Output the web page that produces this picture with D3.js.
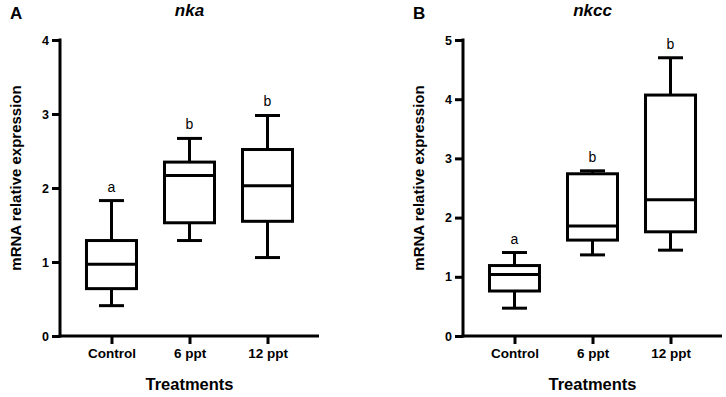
<!DOCTYPE html>
<html>
<head>
<meta charset="utf-8">
<script src="https://cdn.jsdelivr.net/npm/d3@7"></script>
<style>
  body { margin: 0; background: #fff; }
  svg { display: block; font-family: "Liberation Sans", Arial, sans-serif; }
</style>
</head>
<body>
<div id="chart"></div>
<script>
// data
const categories = ["Control", "6 ppt", "12 ppt"];

const nkaMin    = [0.41, 1.29, 1.06];
const nkaQ1     = [0.64, 1.53, 1.55];
const nkaMedian = [0.97, 2.17, 2.03];
const nkaQ3     = [1.29, 2.35, 2.52];
const nkaMax    = [1.83, 2.67, 2.98];
const nkaLetters = ["a", "b", "b"];
const nkaTicks = [0, 1, 2, 3, 4];

const nkccMin    = [0.47, 1.37, 1.45];
const nkccQ1     = [0.76, 1.62, 1.76];
const nkccMedian = [1.04, 1.86, 2.30];
const nkccQ3     = [1.19, 2.74, 4.07];
const nkccMax    = [1.41, 2.79, 4.70];
const nkccLetters = ["a", "b", "b"];
const nkccTicks = [0, 1, 2, 3, 4, 5];

const width = 726, height = 397;
const svg = d3.select("#chart").append("svg")
  .attr("width", width)
  .attr("height", height);

function drawPanel(opt) {
  let g = svg.append("g");
  let x0 = opt.left, x1 = opt.left + 259;
  let yTop = 40, yBottom = 336;

  let x = d3.scalePoint().domain(categories).range([x0, x1]).padding(0.66);
  let y = d3.scaleLinear().domain([0, d3.max(opt.ticks)]).range([yBottom, yTop]);

  let boxes = categories.map((c, i) => ({
    cat: c, min: opt.min[i], q1: opt.q1[i], med: opt.med[i],
    q3: opt.q3[i], max: opt.max[i], letter: opt.letters[i]
  }));

  // y axis
  let yAxis = g.append("g")
    .attr("transform", "translate(" + x0 + ",0)")
    .call(d3.axisLeft(y).tickValues(opt.ticks).tickSize(8).tickPadding(3).tickFormat(d3.format("d")));
  yAxis.select(".domain").attr("d", "M0," + (yTop - 1.5) + "V" + (yBottom + 1.5));

  // x axis
  let xAxis = g.append("g")
    .attr("transform", "translate(0," + yBottom + ")")
    .call(d3.axisBottom(x).tickSize(8).tickPadding(4));
  xAxis.select(".domain").attr("d", "M" + (x0 - 1.5) + ",0H" + x1);

  yAxis.attr("font-family", null).attr("font-size", null);
  xAxis.attr("font-family", null).attr("font-size", null);

  g.selectAll(".domain, .tick line")
    .attr("stroke", "#000")
    .attr("stroke-width", 3);
  g.selectAll(".tick text")
    .attr("fill", "#000")
    .style("font-size", "12.5px")
    .style("font-weight", "bold");
  xAxis.selectAll(".tick text").style("font-size", "13.5px");

  // boxes
  let bw = 50, cw = 25;
  let bx = g.selectAll("g.box").data(boxes).enter().append("g").attr("class", "box");

  bx.append("line")
    .attr("x1", d => x(d.cat)).attr("x2", d => x(d.cat))
    .attr("y1", d => y(d.max)).attr("y2", d => y(d.q3));
  bx.append("line")
    .attr("x1", d => x(d.cat)).attr("x2", d => x(d.cat))
    .attr("y1", d => y(d.q1)).attr("y2", d => y(d.min));
  bx.append("line")
    .attr("x1", d => x(d.cat) - cw / 2).attr("x2", d => x(d.cat) + cw / 2)
    .attr("y1", d => y(d.max)).attr("y2", d => y(d.max));
  bx.append("line")
    .attr("x1", d => x(d.cat) - cw / 2).attr("x2", d => x(d.cat) + cw / 2)
    .attr("y1", d => y(d.min)).attr("y2", d => y(d.min));
  bx.append("rect")
    .attr("x", d => x(d.cat) - bw / 2)
    .attr("width", bw)
    .attr("y", d => y(d.q3))
    .attr("height", d => y(d.q1) - y(d.q3))
    .attr("fill", "none");
  bx.append("line")
    .attr("x1", d => x(d.cat) - bw / 2).attr("x2", d => x(d.cat) + bw / 2)
    .attr("y1", d => y(d.med)).attr("y2", d => y(d.med));
  bx.selectAll("line, rect")
    .attr("stroke", "#000")
    .attr("stroke-width", 3);

  // significance letters
  bx.append("text")
    .attr("x", d => x(d.cat))
    .attr("y", d => y(d.max) - 9)
    .attr("text-anchor", "middle")
    .style("font-size", "14px")
    .text(d => d.letter);

  // titles and labels
  let mid = x(categories[1]);
  g.append("text")
    .attr("x", mid).attr("y", 15.5)
    .attr("text-anchor", "middle")
    .style("font-size", "17px")
    .style("font-weight", "bold")
    .style("font-style", "italic")
    .text(opt.title);

  g.append("text")
    .attr("x", opt.left - 50).attr("y", 18.5)
    .style("font-size", "17px")
    .style("font-weight", "bold")
    .text(opt.panel);

  g.append("text")
    .attr("x", mid).attr("y", 390)
    .attr("text-anchor", "middle")
    .style("font-size", "16.5px")
    .style("font-weight", "bold")
    .text("Treatments");

  g.append("text")
    .attr("transform", "translate(" + (opt.left - 39) + ",178) rotate(-90)")
    .attr("text-anchor", "middle")
    .style("font-size", "15px")
    .style("font-weight", "bold")
    .text("mRNA relative expression");
}

drawPanel({
  left: 60, panel: "A", title: "nka", ticks: nkaTicks,
  min: nkaMin, q1: nkaQ1, med: nkaMedian, q3: nkaQ3, max: nkaMax, letters: nkaLetters
});

drawPanel({
  left: 463, panel: "B", title: "nkcc", ticks: nkccTicks,
  min: nkccMin, q1: nkccQ1, med: nkccMedian, q3: nkccQ3, max: nkccMax, letters: nkccLetters
});
</script>
</body>
</html>
